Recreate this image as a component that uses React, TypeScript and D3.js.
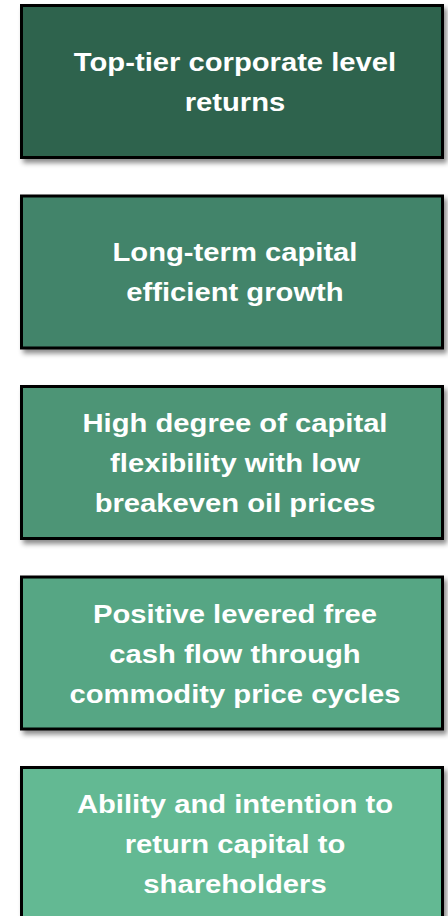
import { useEffect, useRef } from 'react';
import * as d3 from 'd3';

const W = 448;
const H = 916;

// one entry per box, lines broken as in the picture
const labels: string[][] = [
  ['Top-tier corporate level', 'returns'],
  ['Long-term capital', 'efficient growth'],
  ['High degree of capital', 'flexibility with low', 'breakeven oil prices'],
  ['Positive levered free', 'cash flow through', 'commodity price cycles'],
  ['Ability and intention to', 'return capital to', 'shareholders'],
];

const fills = ['#2E644D', '#43846A', '#4D9576', '#57A684', '#63B993'];

export default function App() {
  const svgRef = useRef<SVGSVGElement>(null);

  useEffect(() => {
    const svg = d3.select(svgRef.current);
    svg.selectAll('*').remove();

    const defs = svg.append('defs');
    const filter = defs.append('filter')
      .attr('id', 'shadow')
      .attr('x', '-5%').attr('y', '-5%')
      .attr('width', '115%').attr('height', '125%');
    filter.append('feDropShadow')
      .attr('dx', 3).attr('dy', 4)
      .attr('stdDeviation', 2.5)
      .attr('flood-color', '#000')
      .attr('flood-opacity', 0.45);

    const y = d3.scaleBand<number>()
      .domain(d3.range(labels.length))
      .range([4, 921])
      .paddingInner(0.1864)
      .paddingOuter(0);

    const x0 = 21.5;
    const x1 = 442.5;
    const lineH = 40;
    const cx = 235;

    const g = svg.selectAll('g.box')
      .data(labels)
      .enter().append('g')
      .attr('class', 'box');

    g.append('rect')
      .attr('x', x0)
      .attr('y', (d, i) => y(i)! + 1.5)
      .attr('width', x1 - x0)
      .attr('height', y.bandwidth() - 3)
      .attr('fill', (d, i) => fills[i])
      .attr('stroke', '#000')
      .attr('stroke-width', 3)
      .attr('filter', 'url(#shadow)');

    // text in the source is a little wider than plain Arial, so stretch it
    g.each(function (lines, i) {
      const cy = y(i)! + y.bandwidth() / 2;
      const first = cy - ((lines.length - 1) * lineH) / 2 + 9.5;
      d3.select(this).selectAll('text')
        .data(lines)
        .enter().append('text')
        .attr('transform', (d, j) => `translate(${cx},${first + j * lineH}) scale(1.145,1)`)
        .attr('text-anchor', 'middle')
        .attr('fill', '#fff')
        .attr('font-family', '"Liberation Sans", Arial, sans-serif')
        .attr('font-weight', 700)
        .attr('font-size', 25.5)
        .text(d => d);
    });
  }, []);

  return (
    <div style={{ position: 'absolute', left: 0, top: 0, width: W, height: H, background: '#fff' }}>
      <svg ref={svgRef} width={W} height={H} style={{ display: 'block' }} />
    </div>
  );
}
